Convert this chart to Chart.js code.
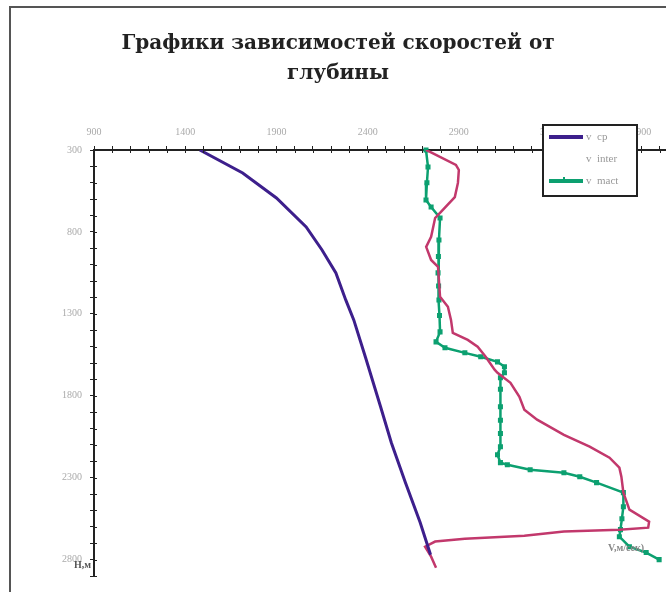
<!DOCTYPE html>
<html>
<head>
<meta charset="utf-8">
<script src="https://cdn.jsdelivr.net/npm/chart.js@4/dist/chart.umd.min.js"></script>
<style>
  html, body { margin: 0; padding: 0; background: #fff; }
  #wrap { width: 666px; height: 592px; position: relative; }
</style>
</head>
<body>
<div id="wrap"><canvas id="c" width="666" height="592"></canvas></div>
<script>
// Velocity vs depth
const depthCp = [300, 440, 593, 770, 910, 1050, 1215, 1337, 1568, 1867, 2087, 2330, 2574, 2770]
const velCp = [1480, 1715, 1900, 2063, 2150, 2226, 2280, 2324, 2389, 2471, 2530, 2607, 2688, 2745]

const depthInter = [300, 312, 391, 422, 501, 587, 678, 715, 830, 891, 971, 1013, 1196, 1257, 1337, 1416, 1459, 1501, 1562, 1641, 1660, 1721, 1806, 1885, 1946, 2038, 2111, 2178, 2239, 2294, 2391, 2495, 2568, 2605, 2617, 2629, 2654, 2672, 2690, 2721, 2782, 2849]
const velInter = [2720, 2742, 2884, 2900, 2895, 2878, 2802, 2770, 2748, 2721, 2748, 2786, 2797, 2840, 2857, 2867, 2949, 3003, 3047, 3096, 3112, 3183, 3232, 3259, 3329, 3476, 3617, 3726, 3780, 3791, 3802, 3835, 3943, 3938, 3780, 3476, 3259, 2933, 2770, 2715, 2748, 2775]

const depthMact = [300, 404, 500, 605, 648, 715, 849, 950, 1050, 1130, 1215, 1310, 1410, 1471, 1507, 1538, 1562, 1593, 1623, 1660, 1690, 1760, 1867, 1950, 2030, 2111, 2160, 2208, 2221, 2251, 2270, 2294, 2330, 2391, 2477, 2550, 2617, 2660, 2721, 2757, 2800]
const velMact = [2720, 2731, 2725, 2720, 2748, 2797, 2791, 2788, 2786, 2789, 2791, 2794, 2797, 2775, 2824, 2933, 3020, 3112, 3150, 3150, 3128, 3128, 3128, 3128, 3128, 3128, 3112, 3128, 3166, 3291, 3476, 3563, 3655, 3802, 3802, 3794, 3786, 3780, 3835, 3927, 3998]

const xMajor = [900, 1400, 1900, 2400, 2900, 3400, 3900]
const yMajor = [300, 800, 1300, 1800, 2300, 2800]

const seriesNames = ['v  cp', 'v  inter', 'v  mact']
const seriesColors = ['#3d1f8c', '#c2386c', '#0ca070']

const pts = (xs, ys) => xs.map((v, i) => ({ x: v, y: ys[i] }))

// ticks every 100, labels only on the major ones
const everyHundred = (min, max) => {
  const out = []
  for (let v = min; v <= max; v += 100) out.push({ value: v })
  return out
}

// frame, small cross ticks, legend box and axis captions
const decor = {
  id: 'decor',
  beforeDraw(chart) {
    const ctx = chart.ctx
    ctx.save()
    ctx.fillStyle = '#fff'
    ctx.fillRect(0, 0, chart.width, chart.height)
    ctx.strokeStyle = '#555'
    ctx.lineWidth = 2
    ctx.strokeRect(10, 7, chart.width + 20, chart.height + 20)
    ctx.restore()
  },
  afterDraw(chart) {
    const ctx = chart.ctx
    const { x, y } = chart.scales
    ctx.save()
    // axis line runs on to the right edge of the picture
    ctx.strokeStyle = '#222'
    ctx.lineWidth = 2
    ctx.beginPath()
    ctx.moveTo(x.right, y.top)
    ctx.lineTo(chart.width, y.top)
    ctx.stroke()
    // inner half of the tick marks (Excel style cross ticks)
    ctx.lineWidth = 1
    ctx.beginPath()
    x.ticks.forEach(t => {
      const px = Math.round(x.getPixelForValue(t.value)) + 0.5
      ctx.moveTo(px, y.top)
      ctx.lineTo(px, y.top + 3)
    })
    y.ticks.forEach(t => {
      const py = Math.round(y.getPixelForValue(t.value)) + 0.5
      ctx.moveTo(x.left, py)
      ctx.lineTo(x.left + 3, py)
    })
    ctx.stroke()
    // legend
    ctx.fillStyle = '#fff'
    ctx.fillRect(543, 125, 94, 71)
    ctx.strokeStyle = '#222'
    ctx.lineWidth = 2
    ctx.strokeRect(543, 125, 94, 71)
    ctx.font = '11px "Liberation Serif", serif'
    ctx.textBaseline = 'middle'
    const rows = [137, 159, 181]
    rows.forEach((ry, i) => {
      if (i !== 1) {
        ctx.strokeStyle = seriesColors[i]
        ctx.lineWidth = 4
        ctx.beginPath()
        ctx.moveTo(549, ry)
        ctx.lineTo(583, ry)
        ctx.stroke()
      }
      if (i === 2) {
        ctx.fillStyle = seriesColors[i]
        ctx.fillRect(563, ry - 4, 2, 4)
      }
      ctx.fillStyle = '#999'
      ctx.fillText(seriesNames[i], 586, ry)
    })
    // axis captions
    ctx.font = 'bold 10px "Liberation Serif", serif'
    ctx.fillStyle = '#888'
    ctx.fillText('V,м/сек)', 608, 548)
    ctx.fillStyle = '#555'
    ctx.fillText('H,м', 74, 565)
    ctx.restore()
  }
}

const tickFont = { family: '"Liberation Serif", serif', size: 10 }

new Chart(document.getElementById('c'), {
  type: 'line',
  data: {
    datasets: [
      {
        label: seriesNames[0],
        data: pts(velCp, depthCp),
        borderColor: seriesColors[0],
        borderWidth: 3,
        pointRadius: 0,
        tension: 0
      },
      {
        label: seriesNames[1],
        data: pts(velInter, depthInter),
        borderColor: seriesColors[1],
        borderWidth: 2.5,
        pointRadius: 0,
        tension: 0
      },
      {
        label: seriesNames[2],
        data: pts(velMact, depthMact),
        borderColor: seriesColors[2],
        backgroundColor: seriesColors[2],
        borderWidth: 2.5,
        pointRadius: 1.8,
        pointStyle: 'rect',
        tension: 0,
        clip: 8
      }
    ]
  },
  options: {
    animation: false,
    responsive: false,
    layout: { padding: { left: 10, right: 0, top: 0, bottom: 16 } },
    plugins: {
      legend: { display: false },
      tooltip: { enabled: false },
      title: {
        display: true,
        text: ['Графики зависимостей скоростей от', 'глубины'],
        color: '#222',
        font: { family: '"DejaVu Serif", serif', size: 20, weight: 'bold', lineHeight: 1.5 },
        padding: { top: 29, bottom: 31 }
      }
    },
    scales: {
      x: {
        type: 'linear',
        position: 'top',
        min: 900,
        max: 4000,
        afterBuildTicks: (s) => { s.ticks = everyHundred(900, 4000) },
        afterFit: (s) => { s.height = 30; s.paddingRight = 0; s.paddingLeft = 0 },
        ticks: {
          autoSkip: false,
          maxRotation: 0,
          color: '#aaa',
          font: tickFont,
          padding: 8,
          callback: (v) => xMajor.includes(v) ? String(v) : ''
        },
        grid: { drawOnChartArea: false, tickLength: 4, color: '#222', tickWidth: 1 },
        border: { color: '#222', width: 2 }
      },
      y: {
        type: 'linear',
        reverse: true,
        min: 300,
        max: 2900,
        afterBuildTicks: (s) => { s.ticks = everyHundred(300, 2900) },
        afterFit: (s) => { s.width = 84; s.paddingTop = 0; s.paddingBottom = 0 },
        ticks: {
          autoSkip: false,
          color: '#aaa',
          font: tickFont,
          padding: 8,
          callback: (v) => yMajor.includes(v) ? String(v) : ''
        },
        grid: { drawOnChartArea: false, tickLength: 4, color: '#222', tickWidth: 1 },
        border: { color: '#222', width: 2 }
      }
    }
  },
  plugins: [decor]
})
</script>
</body>
</html>
